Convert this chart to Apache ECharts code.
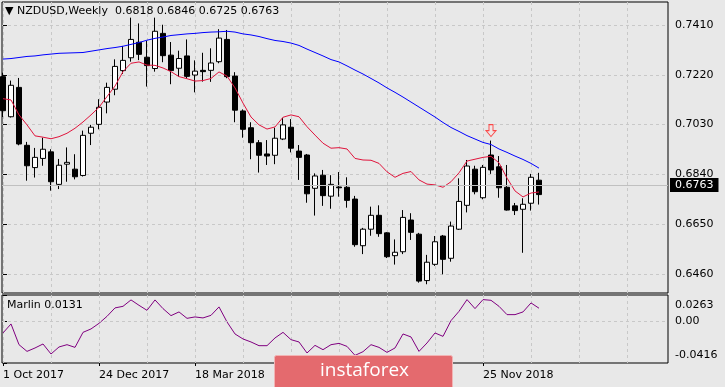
<!DOCTYPE html>
<html><head><meta charset="utf-8">
<script src="https://cdn.jsdelivr.net/npm/echarts@6/dist/echarts.min.js"></script>
<style>html,body{margin:0;padding:0;background:#e8e8e8}#c{width:725px;height:387px}</style>
</head><body><div id="c"></div>
<script>
// ---------- data ----------
const symbolName = 'NZDUSD';
const timeframe = 'Weekly';
const tickIndex = [0, 12, 24, 36, 48, 60];
const tickLabels = ['1 Oct 2017', '24 Dec 2017', '18 Mar 2018', '10 Jun 2018', '2 Sep 2018', '25 Nov 2018'];
const gridIndex = [0, 6, 12, 18, 24, 30, 36, 42, 48, 54, 60, 66, 72, 78];
const priceTicks = [0.6460, 0.6650, 0.6840, 0.7030, 0.7220, 0.7410];
const marlinTicks = [-0.0416, 0, 0.0263];

const open = [0.7213,0.7060,0.7172,0.6951,0.6866,0.6901,0.6926,0.6802,0.6879,0.6860,
  0.6836,0.6997,0.7031,0.7116,0.7165,0.7236,0.7285,0.7344,0.7287,0.7244,
  0.7378,0.7295,0.7245,0.7292,0.7219,0.7237,0.7237,0.7270,0.7355,0.7215,
  0.7082,0.7018,0.6961,0.6918,0.6913,0.6975,0.7020,0.6929,0.6914,0.6787,
  0.6837,0.6757,0.6792,0.6791,0.6746,0.6568,0.6631,0.6684,0.6617,0.6530,
  0.6545,0.6666,0.6612,0.6435,0.6497,0.6605,0.6520,0.6631,0.6722,0.6860,
  0.6751,0.6914,0.6869,0.6791,0.6720,0.6707,0.6730,0.6818];
const high = [0.7228,0.7198,0.7208,0.6964,0.6941,0.6980,0.6936,0.6899,0.6943,0.6917,
  0.7007,0.7029,0.7127,0.7190,0.7279,0.7330,0.7438,0.7416,0.7349,0.7438,
  0.7411,0.7345,0.7312,0.7355,0.7275,0.7304,0.7321,0.7394,0.7391,0.7230,
  0.7088,0.7039,0.6971,0.6971,0.7018,0.7056,0.7051,0.6952,0.6918,0.6844,
  0.6857,0.6837,0.6849,0.6829,0.6758,0.6636,0.6717,0.6722,0.6620,0.6592,
  0.6704,0.6692,0.6617,0.6533,0.6605,0.6609,0.6660,0.6825,0.6895,0.6873,
  0.6876,0.6969,0.6910,0.6876,0.6731,0.6749,0.6842,0.6846];
const low = [0.7059,0.7057,0.6951,0.6816,0.6828,0.6873,0.6778,0.6784,0.6812,0.6821,
  0.6832,0.6952,0.7012,0.7073,0.7142,0.7223,0.7270,0.7276,0.7175,0.7232,
  0.7268,0.7184,0.7213,0.7205,0.7153,0.7194,0.7193,0.7264,0.7207,0.7039,
  0.6980,0.6898,0.6847,0.6876,0.6879,0.6971,0.6924,0.6819,0.6732,0.6683,
  0.6720,0.6709,0.6755,0.6713,0.6564,0.6536,0.6606,0.6602,0.6521,0.6496,
  0.6536,0.6590,0.6427,0.6421,0.6491,0.6459,0.6507,0.6628,0.6695,0.6764,
  0.6745,0.6842,0.6751,0.6702,0.6685,0.6541,0.6702,0.6725];
const close = [0.7083,0.7180,0.6956,0.6873,0.6905,0.6936,0.6812,0.6875,0.6886,0.6831,
  0.6989,0.7020,0.7096,0.7172,0.7252,0.7275,0.7355,0.7298,0.7255,0.7386,
  0.7293,0.7236,0.7282,0.7214,0.7234,0.7232,0.7265,0.7360,0.7213,0.7085,
  0.7012,0.6961,0.6913,0.6910,0.6978,0.7029,0.6940,0.6905,0.6766,0.6834,
  0.6759,0.6802,0.6789,0.6741,0.6572,0.6631,0.6684,0.6614,0.6526,0.6543,
  0.6676,0.6619,0.6433,0.6505,0.6583,0.6516,0.6643,0.6737,0.6872,0.6774,
  0.6867,0.6857,0.6789,0.6704,0.6702,0.6726,0.6829,0.6763];
const redMA = [0.7129,0.7124,0.7067,0.7029,0.6987,0.6982,0.6976,0.6984,0.6997,0.7016,
  0.7040,0.7067,0.7096,0.7137,0.7177,0.7232,0.7264,0.7269,0.7257,0.7256,
  0.7246,0.7232,0.7213,0.7205,0.7196,0.7198,0.7206,0.7231,0.7215,0.7170,
  0.7112,0.7059,0.7029,0.7013,0.7021,0.7058,0.7067,0.7060,0.7022,0.6990,
  0.6959,0.6940,0.6942,0.6937,0.6901,0.6895,0.6894,0.6882,0.6850,0.6829,
  0.6844,0.6851,0.6819,0.6803,0.6800,0.6791,0.6812,0.6846,0.6891,0.6898,
  0.6905,0.6909,0.6884,0.6826,0.6777,0.6754,0.6769,0.6773];
const blueMA = [0.7280,0.7282,0.7286,0.7290,0.7292,0.7296,0.7299,0.7302,0.7303,0.7304,
  0.7305,0.7310,0.7315,0.7320,0.7324,0.7329,0.7336,0.7343,0.7352,0.7359,
  0.7364,0.7370,0.7373,0.7376,0.7378,0.7381,0.7383,0.7384,0.7386,0.7383,
  0.7376,0.7372,0.7366,0.7358,0.7351,0.7347,0.7341,0.7332,0.7318,0.7305,
  0.7292,0.7278,0.7269,0.7254,0.7238,0.7223,0.7206,0.7189,0.7170,0.7153,
  0.7135,0.7116,0.7097,0.7078,0.7059,0.7038,0.7019,0.7004,0.6988,0.6975,
  0.6962,0.6954,0.6937,0.6924,0.6910,0.6897,0.6882,0.6864];
const marlin = [-0.0116,-0.0026,-0.0233,-0.0300,-0.0266,-0.0226,-0.0326,-0.0256,-0.0233,-0.0260,
  -0.0110,-0.0076,-0.0020,0.0050,0.0134,0.0150,0.0214,0.0160,0.0110,0.0214,
  0.0127,0.0057,0.0094,0.0030,0.0044,0.0034,0.0060,0.0144,-0.0006,-0.0126,
  -0.0176,-0.0206,-0.0243,-0.0243,-0.0166,-0.0110,-0.0183,-0.0206,-0.0316,-0.0240,
  -0.0283,-0.0233,-0.0220,-0.0250,-0.0340,-0.0303,-0.0233,-0.0260,-0.0310,-0.0266,
  -0.0126,-0.0156,-0.0300,-0.0216,-0.0116,-0.0150,0.0007,0.0100,0.0217,0.0127,
  0.0217,0.0210,0.0150,0.0067,0.0067,0.0094,0.0184,0.0131];
const signalBars = [61];
const watermarkText = 'instaforex';

// ---------- chart ----------
const FONT = 'DejaVu Sans';
const n = close.length;
const last = n - 1;
const candles = close.map((c, i) => [i, open[i], c, low[i], high[i]]);
const pair = arr => arr.map((v, i) => [i, v]);
const X_MIN = -0.125, X_MAX = 83.125;
const dash = { color: '#c8c8c8', type: [3, 3], width: 1 };

const chart = echarts.init(document.getElementById('c'), null, { renderer: 'canvas' });
chart.setOption({
  animation: false,
  backgroundColor: '#e8e8e8',
  textStyle: { fontFamily: FONT },
  title: [
    { text: '\u25BC ' + symbolName + ',' + timeframe + '  ' +
        [open[last], high[last], low[last], close[last]].map(v => v.toFixed(4)).join(' '),
      left: 5, top: 6, padding: 0,
      textStyle: { fontSize: 11, fontWeight: 'normal', color: '#000', fontFamily: FONT } },
    { text: 'Marlin ' + marlin[last].toFixed(4), left: 7, top: 300, padding: 0,
      textStyle: { fontSize: 11, fontWeight: 'normal', color: '#000', fontFamily: FONT } }
  ],
  grid: [
    { left: 2, right: 57, top: 2, height: 291, show: true, borderColor: '#000', borderWidth: 1, backgroundColor: 'transparent' },
    { left: 2, right: 57, top: 295, height: 68, show: true, borderColor: '#000', borderWidth: 1, backgroundColor: 'transparent' }
  ],
  xAxis: [
    { type: 'value', gridIndex: 0, min: X_MIN, max: X_MAX, axisLine: { show: false },
      axisTick: { show: false, customValues: gridIndex }, axisLabel: { show: false },
      splitLine: { show: true, lineStyle: dash } },
    { type: 'value', gridIndex: 1, min: X_MIN, max: X_MAX, position: 'top', axisLine: { show: false },
      axisTick: { show: false, customValues: gridIndex }, axisLabel: { show: false },
      splitLine: { show: true, lineStyle: dash } },
    { type: 'value', gridIndex: 1, min: X_MIN, max: X_MAX, position: 'bottom', axisLine: { show: false },
      axisTick: { show: true, customValues: tickIndex, length: 3, lineStyle: { color: '#000' } },
      axisLabel: { show: true, customValues: tickIndex, align: 'left', margin: 7, fontSize: 11, color: '#000', fontFamily: FONT,
        formatter: v => tickLabels[tickIndex.indexOf(Math.round(v))] || '' },
      splitLine: { show: false } }
  ],
  yAxis: [
    { type: 'value', gridIndex: 0, position: 'right', min: 0.63876, max: 0.74977, scale: true,
      axisLine: { show: false },
      axisTick: { show: true, customValues: priceTicks, length: 4, lineStyle: { color: '#000' } },
      axisLabel: { customValues: priceTicks, margin: 7, fontSize: 11, color: '#000', fontFamily: FONT, formatter: v => v.toFixed(4) },
      splitLine: { show: true, lineStyle: dash } },
    { type: 'value', gridIndex: 1, position: 'right', min: -0.0416, max: 0.0263, scale: true,
      axisLine: { show: false },
      axisTick: { show: true, customValues: marlinTicks, length: 4, lineStyle: { color: '#000' } },
      axisLabel: { customValues: marlinTicks, margin: 7, fontSize: 11, color: '#000', fontFamily: FONT,
        formatter: v => {
          const s = v === 0 ? '0.00' : v.toFixed(4);
          if (v === marlinTicks[2]) return '{t|' + s + '}';
          if (v === marlinTicks[0]) return '{b|' + s + '}';
          return s;
        },
        rich: { t: { padding: [20, 0, 0, 0], fontSize: 11, fontFamily: FONT, color: '#000' },
                b: { padding: [0, 0, 15, 0], fontSize: 11, fontFamily: FONT, color: '#000' } } },
      splitLine: { show: false } }
  ],
  series: [
    { type: 'candlestick', xAxisIndex: 0, yAxisIndex: 0, data: candles,
      encode: { x: 0, y: [1, 2, 3, 4] }, barWidth: 5,
      itemStyle: { color: '#ffffff', color0: '#000000', borderColor: '#000000', borderColor0: '#000000', borderWidth: 1 },
      markLine: { silent: true, symbol: ['none', 'none'], animation: false,
        lineStyle: { color: '#c0c0c0', type: 'solid', width: 1 },
        label: { show: true, position: 'end', distance: 2, formatter: close[last].toFixed(4),
          backgroundColor: '#000', color: '#fff', padding: [2, 5, 1, 5], fontSize: 11, fontFamily: FONT },
        data: [{ yAxis: close[last] }] },
      z: 3 },
    { type: 'line', xAxisIndex: 0, yAxisIndex: 0, data: pair(redMA), showSymbol: false,
      lineStyle: { color: '#e0143c', width: 1 }, z: 4 },
    { type: 'line', xAxisIndex: 0, yAxisIndex: 0, data: pair(blueMA), showSymbol: false,
      lineStyle: { color: '#0000ff', width: 1 }, z: 4 },
    { type: 'scatter', xAxisIndex: 0, yAxisIndex: 0,
      data: signalBars.map(i => [i, high[i]]),
      symbol: 'path://M3,0 L7,0 L7,6 L10,6 L5,12 L0,6 L3,6 Z', symbolSize: [10, 12], symbolOffset: [0, -10],
      itemStyle: { color: '#f0e6e6', borderColor: '#ff2020', borderWidth: 1 }, z: 5 },
    { type: 'line', xAxisIndex: 2, yAxisIndex: 1, data: pair(marlin), showSymbol: false,
      lineStyle: { color: '#800080', width: 1 },
      markLine: { silent: true, symbol: ['none', 'none'], label: { show: false },
        lineStyle: dash, data: [{ yAxis: 0 }] } }
  ],
  graphic: [
    { type: 'rect', zlevel: 5, z: 100, shape: { x: 274.5, y: 355.5, width: 178, height: 33, r: 2 },
      style: { fill: '#e46a6e', stroke: '#f2b4b4', lineWidth: 1 } },
    { type: 'text', zlevel: 5, z: 101, x: 320, y: 371,
      style: { text: watermarkText, fill: '#ffffff', font: '19px "Open Sans"', verticalAlign: 'middle', align: 'left' } }
  ]
});
</script></body></html>
